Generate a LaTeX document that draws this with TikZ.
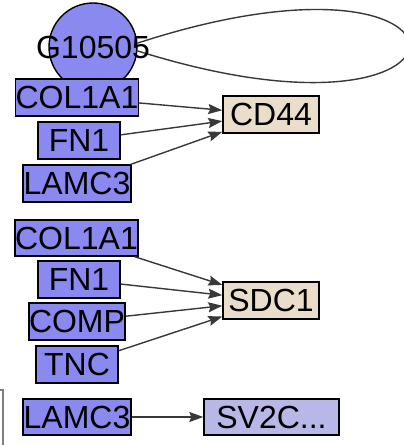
\documentclass[tikz,border=0pt]{standalone}
\usepackage{fontspec}
\setmainfont{Liberation Sans}
\usetikzlibrary{arrows.meta}
\definecolor{gblue}{HTML}{8989EF}
\definecolor{gtan}{HTML}{EADDCA}
\definecolor{glav}{HTML}{B8B8E8}
\definecolor{edgec}{HTML}{383838}
\tikzset{
  gene/.style={draw=black, line width=1.4pt, fill=gblue, inner sep=0pt, font=\fontsize{32}{32}\selectfont, minimum height=37pt},
  recv/.style={gene, fill=gtan},
  edgeline/.style={draw=edgec, line width=1.4pt, -{Stealth[length=14pt,width=10pt,inset=2pt]}},
}
\begin{document}
\begin{tikzpicture}[x=1pt,y=-1pt]
\useasboundingbox (0,0) rectangle (404,445);
% nodes
\node[gene, circle, minimum size=88pt] (g) at (93,47) {};
\node[gene, minimum width=122pt] (col1) at (77,97.5) {COL1A1};
\node[gene, minimum width=82pt] (fn1) at (79,140.5) {FN1};
\node[gene, minimum width=108pt] (lamc3a) at (77,183.5) {LAMC3};
\node[recv, minimum width=96pt] (cd44) at (271,114.5) {CD44};
\node[gene, minimum width=121pt, minimum height=36pt] (col1b) at (76.5,238) {COL1A1};
\node[gene, minimum width=82pt] (fn1b) at (79,279.5) {FN1};
\node[gene, minimum width=96pt] (comp) at (77,321.5) {COMP};
\node[gene, minimum width=82pt] (tnc) at (77,364.5) {TNC};
\node[recv, minimum width=96pt] (sdc1) at (271,300.5) {SDC1};
\node[gene, minimum width=108pt, minimum height=36pt] (lamc3b) at (77,417) {LAMC3};
\node[gene, fill=glav, minimum width=135pt, minimum height=36pt] (sv2c) at (271.5,417) {SV2C...};
% self loop
\draw[draw=edgec, line width=1.4pt] (g.5) .. controls (500,-75) and (500,165) .. (g.-5);
\node[font=\fontsize{32}{32}\selectfont, inner sep=0pt] (glabel) at (93,47) {G10505};
% edges
\draw[edgeline] (col1) -- (cd44);
\draw[edgeline] (fn1) -- (cd44);
\draw[edgeline] (lamc3a) -- (cd44);
\draw[edgeline] (col1b) -- (sdc1);
\draw[edgeline] (fn1b) -- (sdc1);
\draw[edgeline] (comp) -- (sdc1);
\draw[edgeline] (tnc) -- (sdc1);
\draw[edgeline] (lamc3b) -- (sv2c);
% partial frame at left
\draw[draw=gray, line width=1.2pt] (0,390) -- (3,390) -- (3,445);
\end{tikzpicture}
\end{document}
